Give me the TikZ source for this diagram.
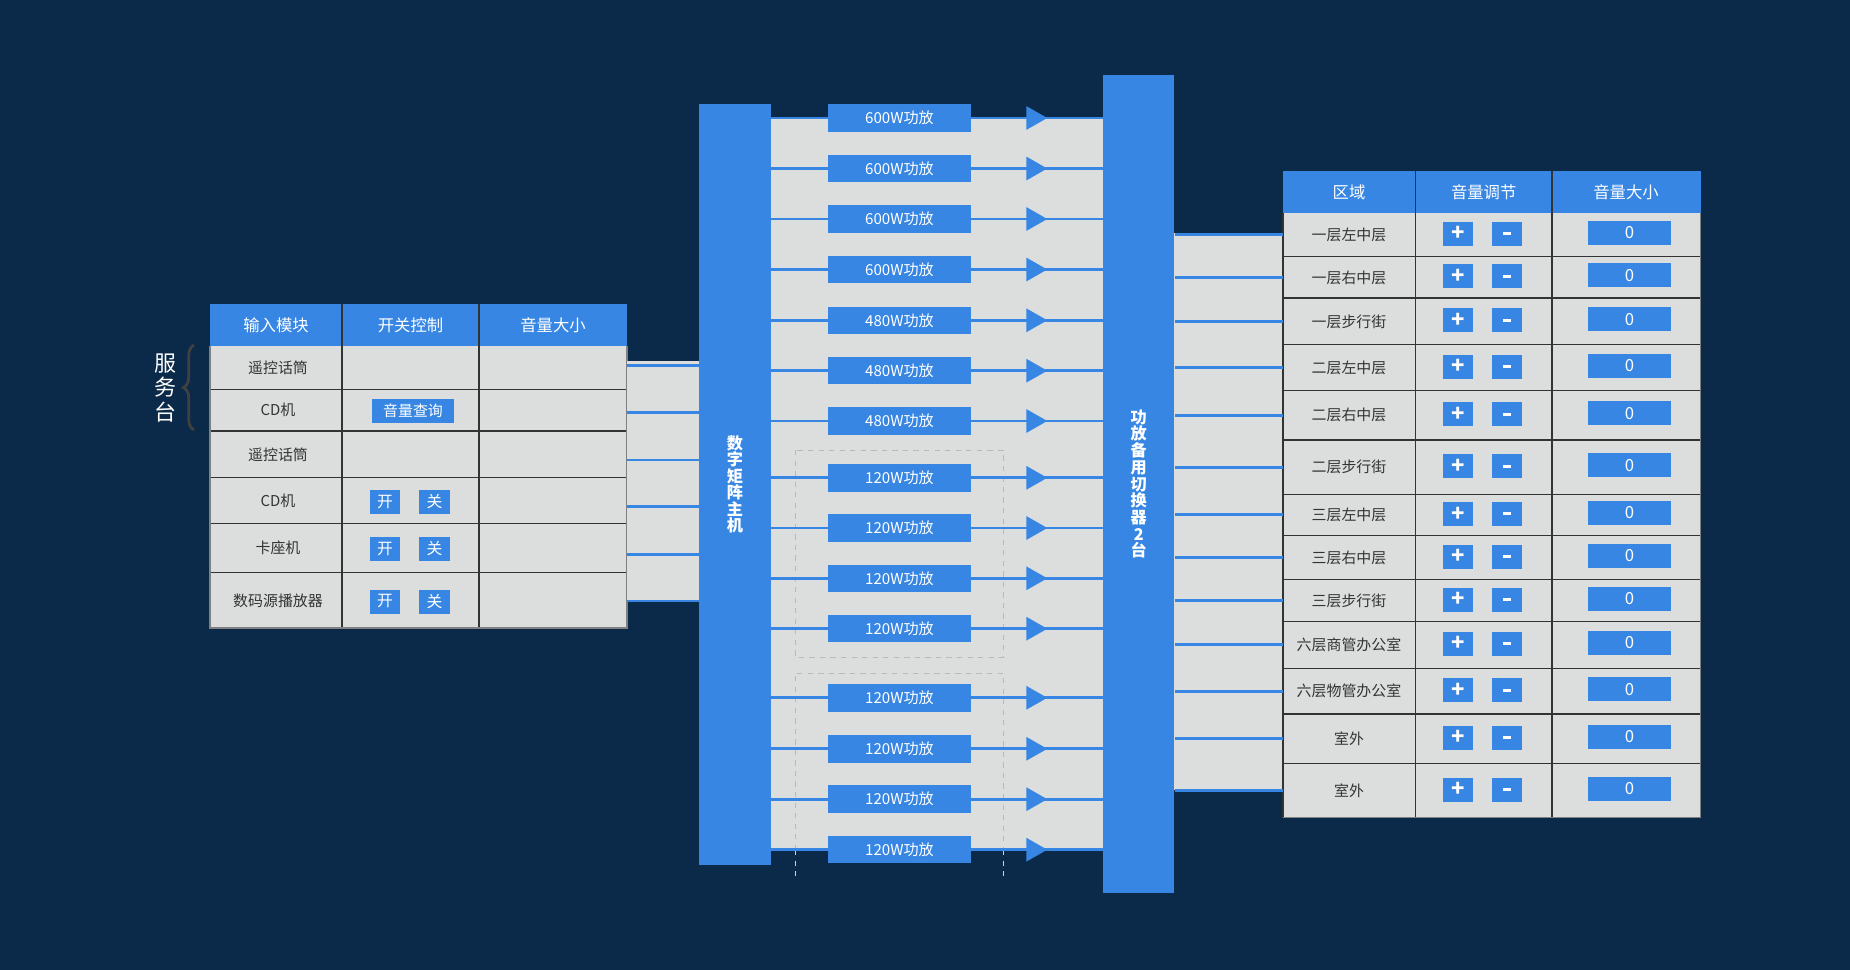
\documentclass[tikz,border=0pt]{standalone}
\usepackage{fontspec}
\setmainfont{Noto Sans CJK SC}
\usetikzlibrary{arrows.meta,decorations.pathreplacing}
\definecolor{bgc}{HTML}{0B2A4A}
\definecolor{blu}{HTML}{3786E3}
\definecolor{gry}{HTML}{DCDDDD}
\definecolor{txt}{HTML}{333333}
\begin{document}
\begin{tikzpicture}[x=0.02cm,y=-0.02cm,
	wire/.style={draw=blu,line width=1.7pt},
	amp/.style={fill=blu,text=white,minimum width=2.86cm,minimum height=0.55cm,inner sep=0pt,font=\fontsize{8.6}{10}\selectfont},
	btn/.style={fill=blu,text=white,minimum width=0.61cm,minimum height=0.48cm,inner sep=0pt,font=\fontsize{9}{10}\selectfont},
	pm/.style={btn,font=\bfseries\fontsize{12.5}{12}\selectfont},
	valbox/.style={btn,minimum width=1.66cm,font=\fontsize{9.5}{10}\selectfont},
	cell/.style={text=txt,inner sep=0pt,font=\fontsize{8.5}{10}\selectfont},
	head/.style={text=white,font=\fontsize{9.3}{10}\selectfont},
	vbar/.style={fill=blu,text=white,inner sep=0pt,align=center},
	grid/.style={draw=txt,line width=0.8pt},
	frame/.style={draw=gray,line width=0.8pt}]
	\fill[bgc] (0,0) rectangle (1850,970);
	% service desk table
	\node[text=white,align=center,font=\fontsize{12.5}{13.8}\selectfont] (desk) at (165,388) {服\\务\\台};
	\draw[decorate,decoration={brace,amplitude=6pt},draw=black!75,line width=1.6pt] (194,430) -- (194,345);
	\fill[gry] (210,346) rectangle (627,628);
	\fill[blu] (210,304) rectangle (627,346);
	\foreach \y in {389.3,431,477.7,523.3,572.7} \draw[grid] (210,\y) -- (627,\y);
	\foreach \x in {342,479} \draw[grid] (\x,304) -- (\x,628);
	\draw[frame] (210,346) -- (210,628) -- (627,628) -- (627,346);
	\node[head] (hin) at (276,325) {输入模块};
	\node[head] (hsw) at (410.5,325) {开关控制};
	\node[head] (hvol) at (553,325) {音量大小};
	\foreach \y/\t [count=\i] in {367.7/遥控话筒,410.2/CD机,454.3/遥控话筒,500.5/CD机,548/卡座机,600.5/数码源播放器}
		\node[cell] (s\i) at (278,\y) {\t};
	\node[btn,minimum width=1.65cm,font=\fontsize{8.5}{10}\selectfont] (query) at (413,410.5) {音量查询};
	\foreach \y [count=\i from 4] in {502,548.7,601.5}{
		\node[btn] (on\i) at (385,\y) {开};
		\node[btn] (off\i) at (434.6,\y) {关};
	}
	% matrix host
	\fill[gry] (627,361) rectangle (699,602);
	\node[vbar,minimum width=1.44cm,minimum height=15.22cm,font=\bfseries\fontsize{9.2}{9.4}\selectfont] (mat) at (735,484.5) {数\\字\\矩\\阵\\主\\机};
	\foreach \y [count=\i] in {365.7,412.3,460,506.7,554.3,601}{
		\coordinate (in\i) at (627,\y);
		\draw[wire] (in\i) -- (in\i -| mat.west);
	}
	% amplifiers
	\fill[gry] (771,118) rectangle (1103,850);
	\draw[gray!55,dashed,line width=0.5pt] (795,450) rectangle (1003,657);
	\draw[gray!55,dashed,line width=0.5pt] (795,850) -- (795,673) -- (1003,673) -- (1003,850);
	\draw[gray!35,dashed,line width=0.4pt] (795,850) -- (795,878) (1003,850) -- (1003,878);
	\node[vbar,minimum width=1.42cm,minimum height=16.36cm,font=\bfseries\fontsize{9.2}{9.5}\selectfont] (sw) at (1138.7,484) {功\\放\\备\\用\\切\\换\\器\\2\\台};
	\foreach \y/\w [count=\i] in {118/600,168.5/600,219/600,269.5/600,320.3/480,370.7/480,421/480,477.8/120,528/120,578.3/120,628.7/120,697.8/120,748.8/120,799.2/120,849.7/120}{
		\node[amp] (a\i) at (899.5,\y) {\w W功放};
		\draw[wire] (a\i.west -| mat.east) -- (a\i.west);
		\draw[wire] (a\i.east) -- (a\i.east -| sw.west);
		\draw[wire,-{Triangle[length=0.42cm,width=0.46cm]}] (a\i.east) -- ++(76,0);
	}
	% zone table
	\fill[gry] (1174,233) rectangle (1283,790);
	\fill[gry] (1283,212.7) rectangle (1700.7,817.7);
	\fill[blu] (1283,171) rectangle (1700.7,212.7);
	\foreach \y in {256.7,298,344.7,390.3,440,494.5,535.3,579.7,621.3,668.3,714,763.3} \draw[grid] (1283,\y) -- (1700.7,\y);
	\foreach \x in {1415.4,1552} \draw[grid] (\x,171) -- (\x,817.7);
	\draw[grid] (1283,212.7) -- (1283,817.7);
	\draw[frame] (1283,817.7) -- (1700.7,817.7) -- (1700.7,212.7);
	\node[head] (hzone) at (1349,192) {区域};
	\node[head] (hadj) at (1483.7,192) {音量调节};
	\node[head] (hval) at (1626,192) {音量大小};
	\foreach \y/\t [count=\i] in {234.7/一层左中层,277.4/一层右中层,321.4/一层步行街,367.5/二层左中层,415.2/二层右中层,467.3/二层步行街,514.9/三层左中层,557.5/三层右中层,600.5/三层步行街,644.8/六层商管办公室,691.2/六层物管办公室,738.7/室外,790.5/室外}{
		\node[cell,minimum width=2.64cm] (r\i) at (1349,\y) {\t};
		\node[pm] (p\i) at (1458,\y-1) {+};
		\node[pm] (m\i) at (1507,\y-1) {\rule[-0.85pt]{5pt}{1.7pt}};
		\node[valbox] (v\i) at (1629.4,\y-2) {0};
		\draw[wire] (r\i.west) -- (r\i.west -| sw.east);
	}
\end{tikzpicture}
\end{document}
